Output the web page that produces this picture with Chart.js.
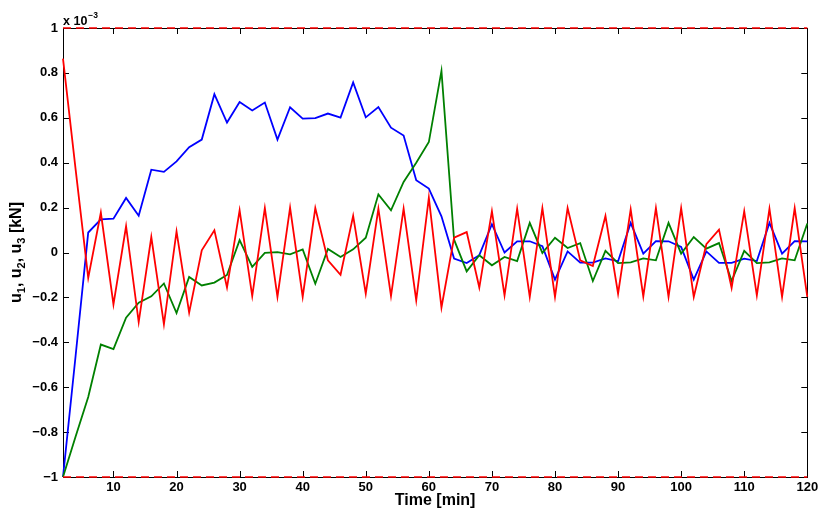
<!DOCTYPE html>
<html>
<head>
<meta charset="utf-8">
<script src="https://cdn.jsdelivr.net/npm/chart.js@4.4.0/dist/chart.umd.min.js"></script>
<style>
  html, body { margin: 0; padding: 0; background: #fff; }
  #wrap { width: 818px; height: 513px; }
</style>
</head>
<body>
<div id="wrap"><canvas id="controlInputs" width="818" height="513"></canvas></div>
<script>
// sample times [min]
const time = [2, 4, 6, 8, 10, 12, 14, 16, 18, 20, 22, 24, 26, 28, 30, 32, 34, 36, 38, 40,
  42, 44, 46, 48, 50, 52, 54, 56, 58, 60, 62, 64, 66, 68, 70, 72, 74, 76, 78, 80,
  82, 84, 86, 88, 90, 92, 94, 96, 98, 100, 102, 104, 106, 108, 110, 112, 114, 116, 118, 120];

// control inputs, in units of 1e-3 kN
const u1 = [-1.0, -0.46, 0.089, 0.148, 0.151, 0.243, 0.164, 0.369, 0.359, 0.406,
  0.469, 0.503, 0.705, 0.579, 0.670, 0.633, 0.668, 0.503, 0.647, 0.596,
  0.599, 0.619, 0.601, 0.758, 0.602, 0.648, 0.556, 0.521, 0.322, 0.285,
  0.161, -0.027, -0.047, -0.012, 0.126, 0.0, 0.05, 0.05, 0.028, -0.121,
  0.005, -0.045, -0.045, -0.026, -0.039, 0.132, -0.005, 0.051, 0.05, 0.025,
  -0.121, 0.005, -0.046, -0.046, -0.027, -0.038, 0.132, -0.005, 0.051, 0.05];

const u2 = [-1.0, -0.82, -0.644, -0.41, -0.43, -0.29, -0.224, -0.195, -0.138, -0.27,
  -0.109, -0.147, -0.134, -0.10, 0.055, -0.064, -0.002, 0.002, -0.008, 0.014,
  -0.139, 0.016, -0.02, 0.014, 0.066, 0.259, 0.188, 0.314, 0.40, 0.492,
  0.809, 0.057, -0.084, -0.012, -0.057, -0.02, -0.038, 0.132, -0.002, 0.066,
  0.02, 0.042, -0.127, 0.007, -0.047, -0.044, -0.026, -0.035, 0.132, -0.005,
  0.069, 0.017, 0.042, -0.127, 0.007, -0.047, -0.044, -0.026, -0.035, 0.129];

const u3 = [0.864, 0.37, -0.113, 0.178, -0.231, 0.117, -0.31, 0.069, -0.32, 0.094,
  -0.268, 0.01, 0.099, -0.156, 0.188, -0.194, 0.198, -0.198, 0.2, -0.198,
  0.198, -0.035, -0.099, 0.163, -0.183, 0.195, -0.194, 0.195, -0.213, 0.244,
  -0.245, 0.066, 0.091, -0.156, 0.184, -0.191, 0.195, -0.198, 0.198, -0.198,
  0.198, -0.035, -0.06, 0.163, -0.183, 0.192, -0.196, 0.198, -0.198, 0.198,
  -0.198, 0.037, 0.102, -0.158, 0.184, -0.191, 0.195, -0.198, 0.198, -0.198];

// input bounds
const uMin = -1;
const uMax = 1;

const xTicks = [10, 20, 30, 40, 50, 60, 70, 80, 90, 100, 110, 120];

const FONT = '"Liberation Sans", Arial, Helvetica, sans-serif';
Chart.defaults.font.family = FONT;
Chart.defaults.color = '#000';

const toPoints = arr => arr.map((v, i) => ({ x: time[i], y: v }));
const bound = v => [{ x: time[0], y: v }, { x: time[time.length - 1], y: v }];

function fmtTick(v) {
  const r = Math.round(v * 10) / 10;
  if (r === 0) return '0';
  return (r < 0 ? '\u2212' : '') + String(Math.abs(r));
}

// box, inward ticks, y label with subscripts and the exponent note
const matlabFrame = {
  id: 'matlabFrame',
  beforeDatasetsDraw(chart) {
    const { ctx, chartArea: a, scales } = chart;
    const len = 6;
    ctx.save();
    ctx.strokeStyle = '#000';
    ctx.lineWidth = 1;
    ctx.strokeRect(Math.round(a.left) + 0.5, Math.round(a.top) + 0.5,
      Math.round(a.right - a.left), Math.round(a.bottom - a.top));
    ctx.beginPath();
    scales.x.ticks.forEach(t => {
      const px = Math.round(scales.x.getPixelForValue(t.value)) + 0.5;
      ctx.moveTo(px, a.bottom); ctx.lineTo(px, a.bottom - len);
      ctx.moveTo(px, a.top); ctx.lineTo(px, a.top + len);
    });
    scales.y.ticks.forEach(t => {
      const py = Math.round(scales.y.getPixelForValue(t.value)) + 0.5;
      ctx.moveTo(a.left, py); ctx.lineTo(a.left + len, py);
      ctx.moveTo(a.right, py); ctx.lineTo(a.right - len, py);
    });
    ctx.stroke();
    ctx.restore();
  },
  afterDraw(chart) {
    const { ctx, chartArea: a } = chart;
    ctx.save();
    ctx.fillStyle = '#000';

    // y axis title: u1, u2, u3 [kN]
    const main = 'bold 16px ' + FONT;
    const sub = 'bold 11px ' + FONT;
    const parts = [['u', main, 0], ['1', sub, 5], [', u', main, 0], ['2', sub, 5],
      [', u', main, 0], ['3', sub, 5], [' [kN]', main, 0]];
    let total = 0;
    parts.forEach(p => { ctx.font = p[1]; total += ctx.measureText(p[0]).width; });
    ctx.translate(17, (a.top + a.bottom) / 2);
    ctx.rotate(-Math.PI / 2);
    ctx.textBaseline = 'middle';
    let x = -total / 2;
    parts.forEach(p => {
      ctx.font = p[1];
      ctx.fillText(p[0], x, p[2]);
      x += ctx.measureText(p[0]).width;
    });
    ctx.restore();

    // exponent note
    ctx.save();
    ctx.fillStyle = '#000';
    ctx.textBaseline = 'alphabetic';
    ctx.font = 'bold 12.5px ' + FONT;
    ctx.fillText('x 10', a.left, a.top - 3);
    const w = ctx.measureText('x 10').width;
    ctx.font = 'bold 8.5px ' + FONT;
    ctx.fillText('\u22123', a.left + w + 1, a.top - 10);
    ctx.restore();
  }
};

const ctx = document.getElementById('controlInputs').getContext('2d');
const myChart = new Chart(ctx, {
  type: 'line',
  data: {
    datasets: [
      { label: 'u3', data: toPoints(u3), borderColor: '#ff0000', order: 1 },
      { label: 'u2', data: toPoints(u2), borderColor: '#008000', order: 2 },
      { label: 'u1', data: toPoints(u1), borderColor: '#0000ff', order: 3 },
      { label: 'upper bound', data: bound(uMax), borderColor: '#ff0000', borderDash: [8, 5], borderWidth: 1.5, order: 0 },
      { label: 'lower bound', data: bound(uMin), borderColor: '#ff0000', borderDash: [8, 5], borderWidth: 1.5, order: 0 }
    ]
  },
  options: {
    responsive: false,
    animation: false,
    clip: false,
    elements: {
      line: { borderWidth: 1.8, tension: 0, fill: false },
      point: { radius: 0 }
    },
    layout: { padding: { left: 0, right: 0, top: 28, bottom: 0 } },
    plugins: {
      legend: { display: false },
      tooltip: { enabled: false }
    },
    scales: {
      x: {
        type: 'linear',
        min: 2,
        max: 120,
        afterBuildTicks: s => { s.ticks = xTicks.map(v => ({ value: v })); },
        afterFit: s => { s.height = 36; s.paddingLeft = 0; s.paddingRight = 10.7; },
        grid: { display: false, drawTicks: false },
        border: { display: false },
        ticks: { padding: 3, maxRotation: 0, font: { size: 13, weight: 'bold' } },
        title: {
          display: true,
          text: 'Time [min]',
          font: { size: 16, weight: 'bold' },
          padding: { top: 0, bottom: 3 }
        }
      },
      y: {
        min: -1,
        max: 1,
        afterFit: s => { s.width = 63; },
        grid: { display: false, drawTicks: false },
        border: { display: false },
        ticks: {
          stepSize: 0.2,
          padding: 5,
          font: { size: 13, weight: 'bold' },
          callback: v => fmtTick(v)
        }
      }
    }
  },
  plugins: [matlabFrame]
});
</script>
</body>
</html>
